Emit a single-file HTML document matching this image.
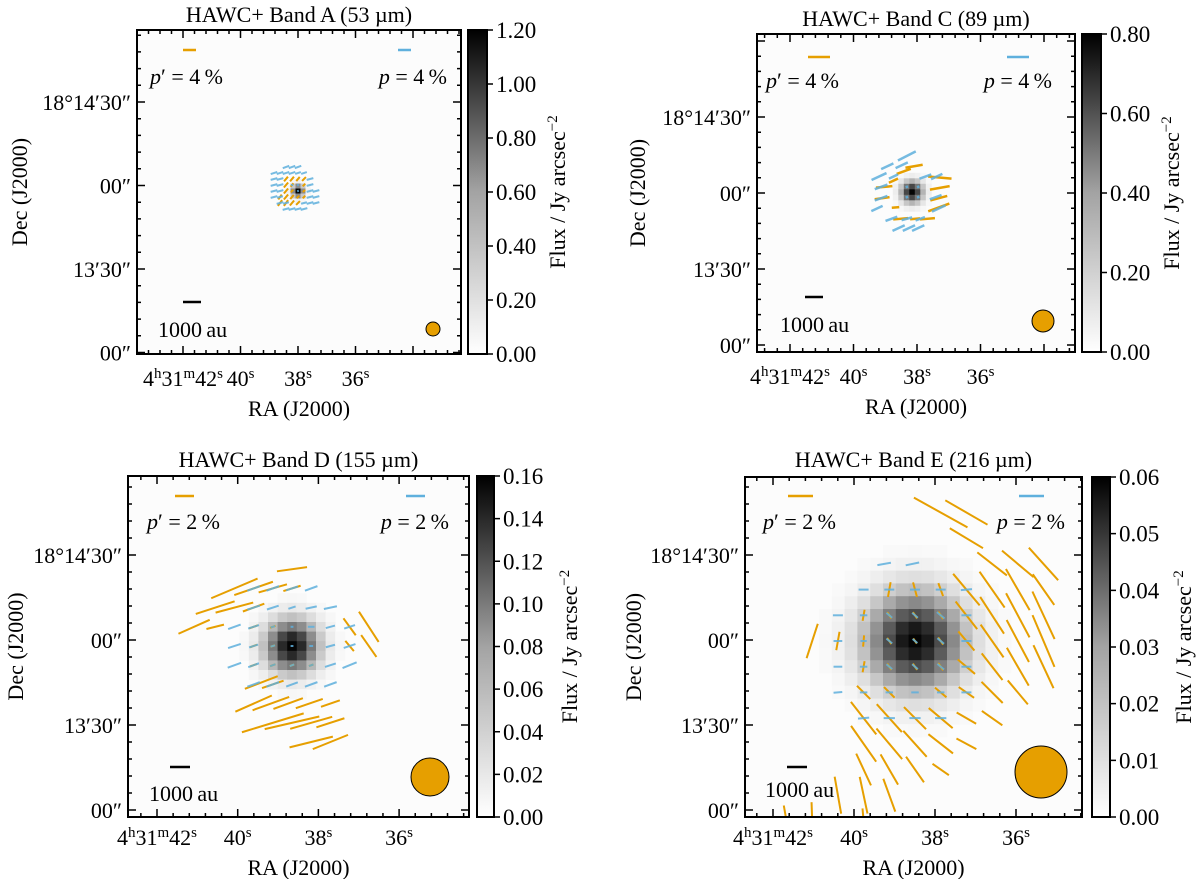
<!DOCTYPE html>
<html><head><meta charset="utf-8"><style>
html,body{margin:0;padding:0;background:#fff;}
svg{display:block;font-family:"Liberation Serif",serif;}
</style></head><body>
<svg id="fig" width="1200" height="879" viewBox="0 0 1200 879"></svg>
<script>
// ---- data ----
const titles = ["HAWC+ Band A (53 \u00b5m)","HAWC+ Band C (89 \u00b5m)","HAWC+ Band D (155 \u00b5m)","HAWC+ Band E (216 \u00b5m)"];
const legendPct = [4,4,2,2];
const cbTicksA = [0,0.2,0.4,0.6,0.8,1.0,1.2];
const cbTicksC = [0,0.2,0.4,0.6,0.8];
const cbTicksD = [0,0.02,0.04,0.06,0.08,0.10,0.12,0.14,0.16];
const cbTicksE = [0,0.01,0.02,0.03,0.04,0.05,0.06];
const raLabels = ["4<tspan baseline-shift='super' font-size='15'>h</tspan>31<tspan baseline-shift='super' font-size='15'>m</tspan>42<tspan baseline-shift='super' font-size='15'>s</tspan>","40<tspan baseline-shift='super' font-size='15'>s</tspan>","38<tspan baseline-shift='super' font-size='15'>s</tspan>","36<tspan baseline-shift='super' font-size='15'>s</tspan>"];
const decLabels = ["18\u00b014\u203230\u2033","00\u2033","13\u203230\u2033","00\u2033"];
// vectors: [i, j, p(%), angle(deg)]
const vecA_orange = [[-2,-2,2,50],[-1,-2,2,50],[0,-2,1.8,50],[1,-2,1.8,45],[-2,-1,2.2,50],[-1,-1,1.5,50],[1,-1,1.2,45],[-2,0,2.2,50],[-1,0,1.2,50],[1,0,1,45],[-2,1,2.2,50],[-1,1,1.8,50],[0,1,1.2,45],[1,1,1.2,45],[-2,2,2.4,55],[-1,2,2.2,50],[0,2,1.8,45],[-3,1,2,55],[-3,2,2.4,55]];
const vecA_blue = [[-2,-4,2.3,20],[-1,-4,2.3,20],[0,-4,2.3,20],[-4,-3,2.3,18],[-3,-3,2.3,18],[-2,-3,2.3,18],[-1,-3,2.3,18],[0,-3,2,18],[1,-3,2,18],[-4,-2,2.3,15],[-3,-2,2.3,15],[2,-2,2.3,15],[-4,-1,2.3,15],[-3,-1,2.3,15],[2,-1,2.3,15],[-4,0,2.3,15],[-3,0,2.3,15],[2,0,2.3,15],[3,0,2.3,15],[-4,1,2.3,15],[-3,1,2,15],[2,1,2.3,15],[3,1,2.3,15],[-3,2,2.3,15],[-2,2,2,15],[1,2,2,15],[2,2,2.3,15],[3,2,2.3,15],[-2,3,2.3,15],[-1,3,2.3,15],[0,3,2.3,15],[1,3,2.3,15],[0,0,0.6,15],[-1,-1,0.8,15],[0,-1,0.6,15]];
const vecC_orange = [[0.2,-2.5,3.5,10],[-0.8,-2,3,20],[2.7,-1.4,4.7,-5],[-1.8,-1.1,2,25],[-2.7,-0.5,3.3,5],[2.7,-0.4,4,10],[-2.9,0.6,3,8],[2.6,0.6,3.5,15],[-1.6,1.5,1.5,5],[2.6,1.5,4.5,20],[-1.1,2.6,3,5],[1.5,2.6,3,5],[0.3,2.6,2,5]];
const vecC_blue = [[-0.5,-3.5,4,27],[-2.4,-2.5,2.7,25],[-1,-2.6,2.7,25],[-3.2,-1.5,3.3,25],[-1.8,-1.5,2,25],[1.3,-1.5,2.5,20],[2.4,-1.5,2.5,25],[-3,-0.5,2.7,20],[-3,0.6,2.7,20],[-3.4,1.6,2.5,25],[-2,2.6,2.5,20],[-0.5,2.6,2.2,15],[0.8,2.6,2,20],[-1.3,3.5,2.7,25],[-0.3,3.5,2.7,25],[0.6,3.5,2.7,25],[2.6,1.6,3,25],[2.3,0.5,2.5,20],[-0.5,-0.5,0.5,20],[0.6,-0.5,0.5,20],[-0.5,0.5,0.5,20],[0.6,0.5,0.5,20]];
const vecD_orange = [[0,-4,3.2,8],[-3,-3,5.3,23],[-2,-3,4.3,19],[-1,-3,3.1,16],[0,-3,1.9,17],[-4,-2,4.3,18],[-3,-2,4.1,15],[-2,-2,2.4,20],[-5.1,-1,3.6,24],[-4,-1,1.9,14],[3,-1,2.2,-54],[4,-1,3.8,-57],[3,0,1.4,-50],[4,0,2.8,-55],[-1.6,1.9,3.7,21],[-1,2,2.4,19],[-2,3,4.2,24],[-1.1,3,4.1,20],[-0.2,3,3.3,20],[0.9,3,3.0,19],[2,3,2.1,19],[-1,4,6.8,17],[0,4,5.9,13],[1,4,4.6,16],[2,4,3.1,18],[1,5,4.7,14],[2,5,4.0,22],[-2,-1,1,20],[-1,-1,0.6,20],[-1,0,0.5,20],[-2,0,0.8,20],[-2,1,0.8,20],[-1,1,0.6,20],[0,1,0.5,20],[1,1,0.5,20]];
const vecD_blue = [[-2,-3,1.4,20],[-1,-3,1.4,20],[0,-3,1.3,18],[1,-3,1.4,20],[-2,-2,1.4,18],[-1,-2,1.3,18],[0,-2,0.8,18],[1,-2,1.2,12],[2,-2,1.4,12],[-3,-1,1.4,20],[-2,-1,1.2,18],[-1,-1,0.5,18],[0,-1,0.3,0],[1,-1,0.7,0],[2,-1,1,15],[3,-1,1.2,18],[-3,0,1.4,18],[-2,0,1,18],[-1,0,0.5,18],[0,0,0.3,0],[1,0,0.4,0],[2,0,1,15],[3,0,1.3,18],[-3,1,1.5,20],[-2,1,1.2,20],[-1,1,0.6,20],[0,1,0.5,20],[1,1,0.5,20],[2,1,1.2,18],[3,1,1.6,22],[-2,2,1.4,20],[-1,2,1.4,20],[0,2,1.3,20],[1,2,1.4,20],[2,2,1.4,20]];
const vecE_orange = [[1,-5,4.9,-29],[2,-5,3.9,-30],[2,-4,3.1,-31],[3,-3,3,-38],[4,-3,3.3,-40],[5,-3,3.5,-48],[2,-2,3.3,-50],[3,-2,3.5,-55],[4,-2,3.8,-60],[5,-2,3,-55],[2,-1,2.8,-52],[3,-1,3.5,-57],[4,-1,4,-62],[5,-1,4.2,-65],[2,0,2,-50],[3,0,3.2,-55],[4,0,3.8,-62],[5,0,4.5,-67],[2,1,1.8,-40],[3,1,2.7,-52],[4,1,3.5,-60],[5,1,3.8,-65],[-2,2,1.5,-45],[-1,2,1.2,-45],[1,2,1.2,-40],[2,2,1.5,-35],[3,2,2.4,-45],[4,2,2.5,-50],[-2,3,3.3,-52],[-1,3,3,-48],[0,3,2.5,-45],[1,3,2.5,-40],[2,3,1.8,-30],[3,3,2,-35],[-2,4,3.5,-55],[-1,4,3.2,-50],[0,4,2.8,-48],[1,4,2.5,-38],[2,4,1.8,-28],[-2,5,2.8,-65],[-1,5,2.8,-60],[0,5,2.5,-55],[1,5,1.6,-35],[-3,6,3,-80],[-2,6,3,-78],[-1,6,2.8,-70],[-5,7,2.5,-80],[-4,7,3,-88],[-2,7,2,-85],[-4,0,2.9,72],[-3,0,1.5,80],[-2,-1,0.9,80],[-2,0,0.9,85],[-2,1,0.9,80],[-1,-2,1.2,80],[0,-2,1.2,-75],[1,-2,1.1,-70],[-1,-1,0.6,-55],[0,-1,0.6,-55],[1,-1,0.7,-55],[-1,0,0.6,-55],[0,0,0.5,-55],[1,0,0.7,-55],[-1,1,0.6,-55],[0,1,0.6,-55],[1,1,0.7,-55]];
const vecE_blue = [[-1.2,-3,1.1,10],[-0.1,-3,1.1,12],[-2,-2,0.8,0],[-1,-2,0.8,0],[0,-2,0.8,0],[1,-2,0.8,0],[2,-2,0.9,5],[-3,-1,0.8,0],[-2,-1,0.6,0],[-1,-1,0.6,-40],[0,-1,0.6,-40],[1,-1,0.8,-40],[2,-1,0.8,0],[-3,0,0.7,0],[-2,0,0.5,0],[-1,0,0.6,-40],[0,0,0.5,-40],[1,0,0.7,-40],[2,0,0.8,0],[-3,1,0.7,0],[-2,1,0.6,0],[-1,1,0.6,-40],[0,1,0.6,-40],[1,1,0.7,-40],[2,1,0.8,0],[-3,2,0.7,5],[-2,2,0.6,0],[-1,2,0.6,0],[0,2,0.6,0],[1,2,0.6,0],[2,2,0.8,0],[-2,3,0.9,5],[-1,3,0.9,0],[0,3,0.9,0],[1,3,0.9,0]];

const NS="http://www.w3.org/2000/svg";
const svg=document.getElementById('fig');
function el(tag,attrs,parent){const e=document.createElementNS(NS,tag);for(const k in attrs)e.setAttribute(k,attrs[k]);(parent||svg).appendChild(e);return e;}
const FS=22;

const panels=[
 {id:'a',L:137,T:30,R:461,B:354,cbx:468,cbw:19,cbTicks:cbTicksA,cbDec:2,ra0:183,raSp:57.5,dec0:102,decSp:83.5,cx:298,cy:191,pix:5,sig:4,grid:6,pct:3,lw:2,vo:vecA_orange,vb:vecA_blue,
  leg:{ox:183,ol:13,ly:50,bx:398,tx1:150,tx2:447,ty:84},sb:{x:183,w:18,y:302,tx:158,ty:337},beam:{x:433,y:329,r:7},titleY:22,labY:386,raY:416,decX:20,cbT:558},
 {id:'c',L:757,T:34,R:1075,B:352,cbx:1082,cbw:19,cbTicks:cbTicksC,cbDec:2,ra0:790,raSp:63.5,dec0:117,decSp:76,cx:912,cy:192,pix:5.5,sig:7,grid:10.3,pct:5,lw:2.5,vo:vecC_orange,vb:vecC_blue,
  leg:{ox:808,ol:22,ly:57,bx:1007,tx1:766,tx2:1052,ty:88},sb:{x:805,w:18,y:297,tx:780,ty:332},beam:{x:1043,y:321,r:11},titleY:26,labY:384,raY:414,decX:638,cbT:1172},
 {id:'d',L:128,T:476,R:469,B:817,cbx:477,cbw:17,cbTicks:cbTicksD,cbDec:2,ra0:157,raSp:80.7,dec0:555,decSp:85,cx:292,cy:646,pix:9.6,sig:17,grid:19.2,pct:9.5,lw:2,vo:vecD_orange,vb:vecD_blue,
  leg:{ox:175,ol:19,ly:496,bx:406,tx1:147,tx2:449,ty:529},sb:{x:170,w:20,y:767,tx:149,ty:801},beam:{x:430,y:777,r:19},titleY:467,labY:845,raY:875,decX:16,cbT:570},
 {id:'e',L:745,T:477,R:1082,B:817,cbx:1092,cbw:18,cbTicks:cbTicksE,cbDec:2,ra0:773,raSp:81,dec0:555,decSp:85,cx:915,cy:641,pix:12.8,sig:31,grid:25.7,pct:12.5,lw:2,vo:vecE_orange,vb:vecE_blue,
  leg:{ox:788,ol:25,ly:496,bx:1019,tx1:763,tx2:1065,ty:529},sb:{x:787,w:20,y:767,tx:765,ty:797},beam:{x:1041,y:772,r:26},titleY:467,labY:845,raY:875,decX:634,cbT:1184}
];

panels.forEach((P,k)=>{
  const g=el('g',{});
  
  
  const cw=P.R-P.L, ch=P.B-P.T;
  const clip=el('clipPath',{id:'clip'+k},g);
  el('rect',{x:P.L,y:P.T,width:cw,height:ch},clip);
  const img=el('g',{'clip-path':'url(#clip'+k+')'},g);
  
  
  el('rect',{x:P.L,y:P.T,width:cw,height:ch,fill:'#fcfcfc'},img);
  const n=Math.ceil(5*P.sig/P.pix);
  for(let a=-n;a<=n;a++)for(let b=-n;b<=n;b++){
    const x=a*P.pix,y=b*P.pix;
    const v=0.98*Math.exp(-(x*x+y*y)/(2*P.sig*P.sig));
    if(v<0.01)continue;
    const c=Math.round(252*(1-v));
    el('rect',{x:(P.cx+x-P.pix/2).toFixed(1),y:(P.cy+y-P.pix/2).toFixed(1),width:P.pix+0.4,height:P.pix+0.4,fill:`rgb(${c},${c},${c})`},img);
  }
  const vg=el('g',{'clip-path':'url(#clip'+k+')'},g);
  function drawVec(list,color,name,op){
    list.forEach(v=>{
      const mx=P.cx+v[0]*P.grid, my=P.cy+v[1]*P.grid;
      const L2=v[2]*P.pct/2, t=v[3]*Math.PI/180;
      const dx=L2*Math.cos(t), dy=-L2*Math.sin(t);
      const ln=el('line',{x1:mx-dx,y1:my-dy,x2:mx+dx,y2:my+dy,stroke:color,'stroke-width':P.lw,opacity:op},vg);
      
      
    });
  }
  drawVec(P.vo,'#E69F00','vector-orange',1);
  drawVec(P.vb,'#5fb0dd','vector-blue',0.85);
  const lo=el('line',{x1:P.leg.ox,x2:P.leg.ox+P.leg.ol,y1:P.leg.ly,y2:P.leg.ly,stroke:'#E69F00','stroke-width':2.5},g);
  
  const lb=el('line',{x1:P.leg.bx,x2:P.leg.bx+P.leg.ol,y1:P.leg.ly,y2:P.leg.ly,stroke:'#5fb0dd','stroke-width':2.5},g);
  
  const t1=el('text',{x:P.leg.tx1,y:P.leg.ty,'font-size':FS},g);
  t1.innerHTML='<tspan font-style="italic">p</tspan>\u2032 = '+legendPct[k]+'\u2009%';
  
  const t2=el('text',{x:P.leg.tx2,y:P.leg.ty,'font-size':FS,'text-anchor':'end'},g);
  t2.innerHTML='<tspan font-style="italic">p</tspan> = '+legendPct[k]+'\u2009%';
  
  const sb=el('line',{x1:P.sb.x,x2:P.sb.x+P.sb.w,y1:P.sb.y,y2:P.sb.y,stroke:'#000','stroke-width':2.5},g);
  
  const st=el('text',{x:P.sb.tx,y:P.sb.ty,'font-size':FS},g);st.textContent='1000\u2009au';
  
  const bm=el('circle',{cx:P.beam.x,cy:P.beam.y,r:P.beam.r,fill:'#E69F00',stroke:'#000','stroke-width':1},g);
  
  const fr=el('rect',{x:P.L,y:P.T,width:cw,height:ch,fill:'none',stroke:'#000','stroke-width':2},g);
  
  let d='';
  for(let m=-10;m<=30;m++){
    const x=P.ra0+m*P.raSp/5; if(x<=P.L+1||x>=P.R-1)continue;
    const len=(m%5===0)?8:4;
    d+=`M${x},${P.B}v${-len}M${x},${P.T}v${len}`;
  }
  for(let m=-10;m<=25;m++){
    const y=P.dec0+m*P.decSp/5; if(y<=P.T+1||y>=P.B-1)continue;
    const len=(m%5===0)?8:4;
    d+=`M${P.L},${y}h${len}M${P.R},${y}h${-len}`;
  }
  el('path',{d:d,stroke:'#000','stroke-width':1.5,fill:'none'},g);
  raLabels.forEach((s,i)=>{
    const t=el('text',{x:P.ra0+i*P.raSp,y:P.labY,'font-size':FS,'text-anchor':'middle'},g);
    t.innerHTML=s;
    
  });
  decLabels.forEach((s,i)=>{
    const t=el('text',{x:P.L-6,y:P.dec0+i*P.decSp+8,'font-size':FS,'text-anchor':'end'},g);
    t.textContent=s;
    
  });
  const ti=el('text',{x:(P.L+P.R)/2,y:P.titleY,'font-size':FS,'text-anchor':'middle'},g);ti.textContent=titles[k];
  
  const rl=el('text',{x:(P.L+P.R)/2,y:P.raY,'font-size':FS,'text-anchor':'middle'},g);rl.textContent='RA (J2000)';
  
  const dl=el('text',{x:P.decX,y:(P.T+P.B)/2,'font-size':FS,'text-anchor':'middle',transform:`rotate(-90 ${P.decX} ${(P.T+P.B)/2})`,dy:7},g);dl.textContent='Dec (J2000)';
  
  const gid='grad'+k;
  const lg=el('linearGradient',{id:gid,x1:0,y1:1,x2:0,y2:0},g);
  el('stop',{offset:0,'stop-color':'#fff'},lg);
  el('stop',{offset:0.5,'stop-color':'#a3a3a3'},lg);
  el('stop',{offset:1,'stop-color':'#000'},lg);
  const cb=el('rect',{x:P.cbx,y:P.T,width:P.cbw,height:ch,fill:`url(#${gid})`,stroke:'#000','stroke-width':2},g);
  
  const maxV=P.cbTicks[P.cbTicks.length-1];
  let cd='';
  P.cbTicks.forEach(v=>{
    const y=P.B-(v/maxV)*ch;
    cd+=`M${P.cbx+P.cbw},${y}h6`;
    const t=el('text',{x:P.cbx+P.cbw+9,y:y+8,'font-size':FS+1},g);
    t.textContent=v.toFixed(P.cbDec);
    
  });
  el('path',{d:cd,stroke:'#000','stroke-width':1.5},g);
  const cx=P.cbT, cy=(P.T+P.B)/2;
  const cl=el('text',{x:cx,y:cy,'font-size':FS,'text-anchor':'middle',transform:`rotate(-90 ${cx} ${cy})`,dy:7},g);
  cl.innerHTML='Flux / Jy arcsec<tspan baseline-shift="super" font-size="15">\u22122</tspan>';
  
});
</script>
</body></html>
